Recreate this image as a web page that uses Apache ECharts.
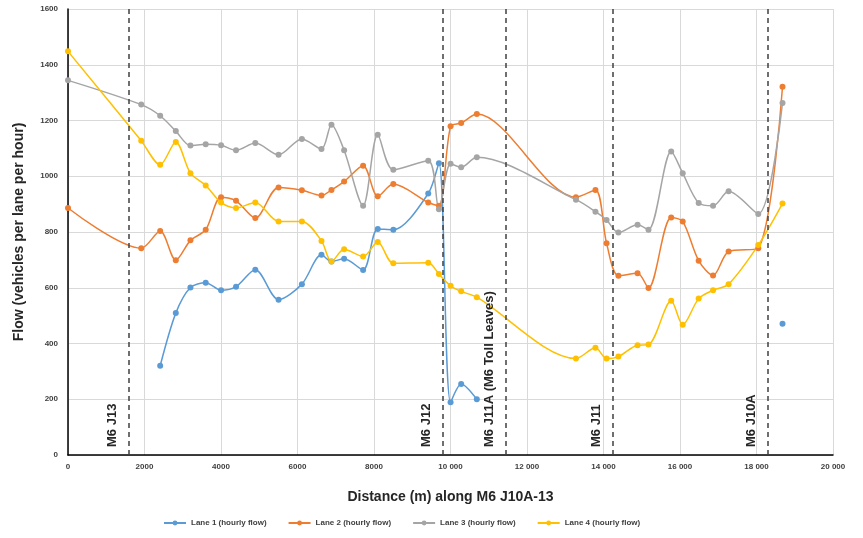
<!DOCTYPE html>
<html>
<head>
<meta charset="utf-8">
<script src="https://cdn.jsdelivr.net/npm/echarts@6/dist/echarts.min.js"></script>
<style>
    html, body { margin: 0; padding: 0; background: #fff; }
    #chart { width: 863px; height: 538px; }
</style>
</head>
<body>
<div id="chart"></div>
<script>
// 距离 (m)
const distances = [0, 1915, 2410, 2818, 3201, 3600, 4002, 4393, 4897, 5505, 6115, 6627, 6888, 7219, 7715, 8098, 8505, 9418, 9697,
    10002, 10279, 10688, 13280, 13790, 14080, 14390, 14890, 15176, 15770, 16071, 16488, 16864, 17271, 18046, 18680];

const lane1 = [null, null, 320, 509, 601, 618, 591, 604, 665, 557, 613, 718, 694, 704, 664, 811, 808, 938, 1047,
    189, 255, 200, null, null, null, null, null, null, null, null, null, null, null, null, 471];
const lane2 = [886, 742, 804, 699, 770, 808, 925, 912, 850, 960, 950, 931, 951, 981, 1038, 928, 972, 906, 894,
    1179, 1191, 1223, 925, 951, 760, 643, 652, 599, 852, 838, 697, 644, 730, 742, 1321];
const lane3 = [1344, 1257, 1217, 1162, 1110, 1115, 1111, 1093, 1119, 1077, 1134, 1098, 1185, 1093, 894, 1149, 1023, 1056, 882,
    1045, 1032, 1068, 916, 873, 843, 798, 826, 808, 1089, 1011, 904, 894, 946, 865, 1263];
const lane4 = [1448, 1127, 1041, 1123, 1011, 967, 906, 886, 906, 838, 838, 768, 694, 738, 712, 764, 688, 690, 649,
    607, 587, 566, 346, 385, 346, 353, 394, 396, 553, 467, 561, 591, 613, 753, 902];

// 路口位置
const junctionNames = ['M6 J13', 'M6 J12', 'M6 J11A (M6 Toll Leaves)', 'M6 J11', 'M6 J10A'];
const junctionPos = [1600, 9810, 11440, 14245, 18300];

const laneNames = ['Lane 1 (hourly flow)', 'Lane 2 (hourly flow)', 'Lane 3 (hourly flow)', 'Lane 4 (hourly flow)'];
const laneColors = ['#5B9BD5', '#ED7D31', '#A5A5A5', '#FFC000'];

function pairs(values) {
    const out = [];
    values.forEach((v, i) => {
        out.push([distances[i], v === null ? '-' : v]);
    });
    return out;
}

const chart = echarts.init(document.getElementById('chart'));

const series = [lane1, lane2, lane3, lane4].map((vals, i) => ({
    name: laneNames[i],
    type: 'line',
    data: pairs(vals),
    smooth: 0.3,
    connectNulls: false,
    symbol: 'circle',
    symbolSize: 6,
    showAllSymbol: true,
    lineStyle: { color: laneColors[i], width: 1.5 },
    itemStyle: { color: laneColors[i] },
    z: 3
}));

// 虚线 + 路口标签
series.push({
    name: 'junctions',
    type: 'line',
    data: [],
    markLine: {
        silent: true,
        symbol: ['none', 'none'],
        lineStyle: { type: [5, 4], color: '#404040', width: 1.5 },
        label: {
            show: true,
            position: 'insideStartTop',
            distance: [8, 10],
            color: '#262626',
            fontFamily: 'Liberation Sans',
            fontWeight: 'bold',
            fontSize: 13,
            formatter: p => p.name
        },
        data: junctionNames.map((n, i) => [
            { name: n, coord: [junctionPos[i], 0] },
            { coord: [junctionPos[i], 1600] }
        ])
    },
    z: 2
});

const option = {
    backgroundColor: '#fff',
    animation: false,
    grid: { left: 68, right: 30, top: 9, bottom: 83 },
    legend: {
        data: laneNames,
        left: 158,
        top: 514,
        itemWidth: 22,
        itemHeight: 6,
        itemGap: 21,
        textStyle: { fontSize: 8, color: '#404040', fontFamily: 'Liberation Sans', fontWeight: 'bold' }
    },
    xAxis: {
        type: 'value',
        min: 0,
        max: 20000,
        interval: 2000,
        name: 'Distance (m) along M6 J10A-13',
        nameLocation: 'middle',
        nameGap: 35,
        nameTextStyle: { fontSize: 14, fontWeight: 'bold', color: '#262626', fontFamily: 'Liberation Sans' },
        axisLine: { lineStyle: { color: '#000', width: 1.5 } },
        axisTick: { show: false },
        axisLabel: {
            fontSize: 8,
            color: '#404040',
            fontWeight: 'bold',
            fontFamily: 'Liberation Sans',
            formatter: v => v >= 10000 ? String(v).slice(0, 2) + ' ' + String(v).slice(2) : String(v)
        },
        splitLine: { show: true, lineStyle: { color: '#d9d9d9', width: 1 } }
    },
    yAxis: {
        type: 'value',
        min: 0,
        max: 1600,
        interval: 200,
        name: 'Flow (vehicles per lane per hour)',
        nameLocation: 'middle',
        nameGap: 42,
        nameTextStyle: { fontSize: 14, fontWeight: 'bold', color: '#262626', fontFamily: 'Liberation Sans' },
        axisLine: { show: true, lineStyle: { color: '#000', width: 1.5 } },
        axisTick: { show: false },
        axisLabel: {
            fontSize: 8, color: '#404040', fontWeight: 'bold', fontFamily: 'Liberation Sans', margin: 10,
            formatter: v => String(v)
        },
        splitLine: { show: true, lineStyle: { color: '#d9d9d9', width: 1 } }
    },
    series: series
};

chart.setOption(option);
</script>
</body>
</html>
